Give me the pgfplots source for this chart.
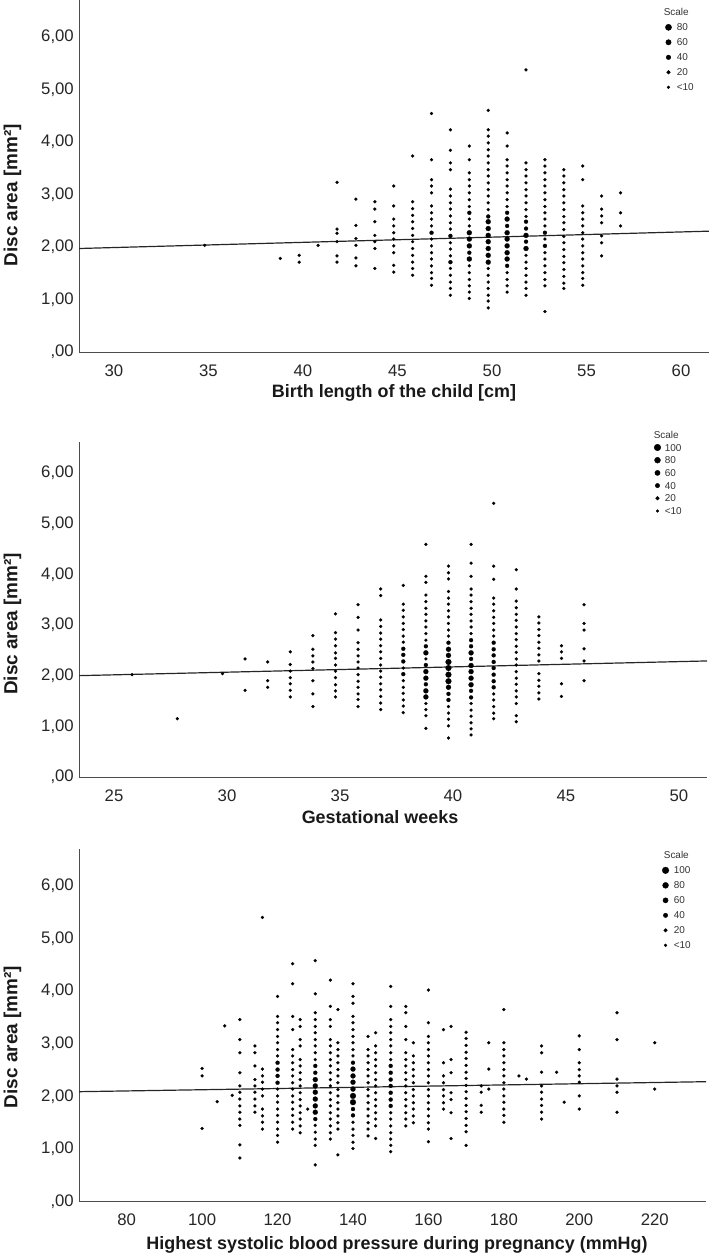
\documentclass[border=0pt]{standalone}
\usepackage{fontspec}
\setmainfont{Liberation Sans}
\usepackage{pgfplots}
\pgfplotsset{compat=1.18}
\pgfplotsset{
  myax/.style={
    scale only axis, axis lines=left,
    axis line style={-, black!70, line width=0.8bp},
    major tick length=0pt, ymin=0, ytick={0,1,2,3,4,5,6},
    yticklabels={{,00},{1,00},{2,00},{3,00},{4,00},{5,00},{6,00}},
    tick label style={font=\fontsize{16.8}{18}\selectfont, text=black!85},
    yticklabel style={xshift=-1.7bp},
    xticklabel style={yshift=-9bp},
    label style={font=\bfseries\fontsize{18}{20}\selectfont, text=black!90},
    ylabel={Disc area [mm²]},
    ylabel style={font=\bfseries\fontsize{19}{21}\selectfont},
    legend cell align=left,
    legend style={draw=none, fill=none, inner sep=0pt,
      font=\fontsize{10}{10}\selectfont, text=black!80,
      nodes={inner sep=0pt, text height=7.3bp, text depth=0pt}},
  },
  dotleg/.style={legend image code/.code={\fill[black] (0,0) circle[radius=#1];}},
  sdot/.style={forget plot, only marks, mark=*, mark size=1.55bp, mark options={fill=black, draw=black, line width=0.2bp}},
  mdot/.style={forget plot, only marks, mark=*, mark size=2.0bp, mark options={fill=black, draw=black, line width=0.2bp}},
  ldot/.style={forget plot, only marks, mark=*, mark size=2.5bp, mark options={fill=black, draw=black, line width=0.2bp}},
  xdot/.style={forget plot, only marks, mark=*, mark size=2.9bp, mark options={fill=black, draw=black, line width=0.2bp}},
  regline/.style={forget plot, black!85, line width=1.2bp},
}
\begin{document}
\begin{tikzpicture}
\useasboundingbox (0,0) rectangle (709bp,-1257bp);
% ---------------- Panel 1 ----------------
\begin{axis}[myax, at={(79bp,-352bp)}, anchor=south west, width=630bp, height=352bp,
  xmin=28.15, xmax=61.48, ymax=6.7,
  xtick={30,35,40,45,50,55,60}, xticklabels={30,35,40,45,50,55,60},
  xlabel={Birth length of the child [cm]},
  xlabel style={at={(axis description cs:0.5,0)}, anchor=center, yshift=-41bp},
  ylabel style={at={(axis description cs:-0.1056,0.445)}, anchor=center},
  legend style={at={(axis description cs:0.976,0.976)}, anchor=north east, row sep=7.7bp, column sep=5bp}]
\addplot[regline] coordinates {(28.15,1.97) (61.48,2.30)};
\addplot[sdot] coordinates {
(34.8,2.03) (38.8,1.78) (39.8,1.84) (39.8,1.71) (40.8,2.03)
(41.8,3.23) (41.8,2.34) (41.8,2.26) (41.8,2.10) (41.8,1.83) (41.8,1.71)
(42.8,2.91) (42.8,2.41) (42.8,2.16) (42.8,2.03) (42.8,1.79) (42.8,1.64)
(43.8,2.86) (43.8,2.72) (43.8,2.48) (43.8,2.22) (43.8,2.10) (43.8,1.97) (43.8,1.59)
(44.8,3.16) (44.8,2.78) (44.8,2.53) (44.8,2.40) (44.8,2.27) (44.8,2.15) (44.8,2.02) (44.8,1.89) (44.8,1.65) (44.8,1.52)
(45.8,3.73) (45.8,2.86) (45.8,2.73) (45.8,2.60) (45.8,2.48) (45.8,2.35) (45.8,2.22) (45.8,2.10) (45.8,1.97) (45.8,1.84) (45.8,1.71) (45.8,1.59) (45.8,1.46)
(46.8,4.54) (46.8,3.66) (46.8,3.28) (46.8,3.16) (46.8,3.03) (46.8,2.78) (46.8,2.65) (46.8,2.53) (46.8,2.40) (46.8,2.15) (46.8,2.02) (46.8,1.89) (46.8,1.77) (46.8,1.64) (46.8,1.51) (46.8,1.40) (46.8,1.27)
(47.8,4.23) (47.8,3.84) (47.8,3.60) (47.8,3.47) (47.8,3.10) (47.8,2.97) (47.8,2.84) (47.8,2.72) (47.8,2.59) (47.8,2.46) (47.8,2.34) (47.8,2.08) (47.8,1.96) (47.8,1.83) (47.8,1.59) (47.8,1.46) (47.8,1.33) (47.8,1.21) (47.8,1.08)
(48.8,3.92) (48.8,3.66) (48.8,3.41) (48.8,3.28) (48.8,3.16) (48.8,3.03) (48.8,2.90) (48.8,2.77) (48.8,2.53) (48.8,2.40) (48.8,1.64) (48.8,1.51) (48.8,1.38) (48.8,1.26) (48.8,1.14) (48.8,1.02)
(49.8,4.60) (49.8,4.23) (49.8,4.11) (49.8,3.98) (49.8,3.85) (49.8,3.73) (49.8,3.60) (49.8,3.47) (49.8,3.35) (49.8,3.22) (49.8,3.09) (49.8,2.97) (49.8,2.84) (49.8,2.71) (49.8,1.59) (49.8,1.46) (49.8,1.33) (49.8,1.21) (49.8,1.08) (49.8,0.97) (49.8,0.84)
(50.8,4.17) (50.8,3.92) (50.8,3.66) (50.8,3.54) (50.8,3.41) (50.8,3.28) (50.8,3.16) (50.8,3.03) (50.8,2.90) (50.8,2.77) (50.8,1.51) (50.8,1.38) (50.8,1.26) (50.8,1.14)
(51.8,5.37) (51.8,3.60) (51.8,3.47) (51.8,3.35) (51.8,3.22) (51.8,3.09) (51.8,2.97) (51.8,2.84) (51.8,2.71) (51.8,2.58) (51.8,1.84) (51.8,1.71) (51.8,1.59) (51.8,1.46) (51.8,1.33) (51.8,1.21) (51.8,1.08)
(52.8,3.66) (52.8,3.54) (52.8,3.41) (52.8,3.28) (52.8,3.16) (52.8,3.03) (52.8,2.90) (52.8,2.77) (52.8,2.65) (52.8,2.53) (52.8,2.40) (52.8,2.15) (52.8,1.89) (52.8,1.77) (52.8,1.64) (52.8,1.51) (52.8,1.38) (52.8,1.26) (52.8,0.77)
(53.8,3.47) (53.8,3.35) (53.8,3.22) (53.8,3.09) (53.8,2.97) (53.8,2.84) (53.8,2.71) (53.8,2.58) (53.8,2.46) (53.8,2.33) (53.8,2.20) (53.8,2.08) (53.8,1.95) (53.8,1.82) (53.8,1.70) (53.8,1.57) (53.8,1.44) (53.8,1.31) (53.8,1.21)
(54.8,3.54) (54.8,3.28) (54.8,2.78) (54.8,2.65) (54.8,2.53) (54.8,2.40) (54.8,2.27) (54.8,2.15) (54.8,2.02) (54.8,1.89) (54.8,1.77) (54.8,1.64) (54.8,1.51) (54.8,1.40) (54.8,1.27)
(55.8,2.97) (55.8,2.72) (55.8,2.59) (55.8,2.46) (55.8,2.21) (55.8,2.08) (55.8,1.83)
(56.8,3.03) (56.8,2.65) (56.8,2.40)
};
\addplot[mdot] coordinates {
(46.8,2.27) (47.8,2.21) (47.8,1.71) (48.8,2.65) (48.8,1.89) (49.8,2.58) (50.8,2.65) (50.8,2.40) (50.8,1.64) (51.8,2.48) (51.8,2.35) (51.8,2.10) (52.8,2.27) (52.8,2.02)
};
\addplot[ldot] coordinates {
(48.8,2.27) (48.8,2.15) (48.8,2.02) (48.8,1.77) (49.8,2.48) (49.8,2.35) (49.8,2.22) (49.8,2.10) (49.8,1.97) (49.8,1.84) (49.8,1.71) (50.8,2.53) (50.8,2.27) (50.8,2.15) (50.8,2.02) (50.8,1.89) (50.8,1.77) (51.8,2.22) (51.8,1.97)
};
\addlegendimage{empty legend}\addlegendentry{\hspace*{-13bp}Scale}
\addlegendimage{dotleg=3.1bp}\addlegendentry{80}
\addlegendimage{dotleg=2.7bp}\addlegendentry{60}
\addlegendimage{dotleg=2.3bp}\addlegendentry{40}
\addlegendimage{dotleg=1.85bp}\addlegendentry{20}
\addlegendimage{dotleg=1.4bp}\addlegendentry{<10}
\end{axis}
% ---------------- Panel 2 ----------------
\begin{axis}[myax, at={(79bp,-777bp)}, anchor=south west, width=628bp, height=335bp,
  xmin=23.45, xmax=51.24, ymax=6.61,
  xtick={25,30,35,40,45,50}, xticklabels={25,30,35,40,45,50},
  xlabel={Gestational weeks},
  xlabel style={at={(axis description cs:0.5,0)}, anchor=center, xshift=-13bp, yshift=-40bp},
  ylabel style={at={(axis description cs:-0.1059,0.457)}, anchor=center},
  legend style={at={(axis description cs:0.960,1.033)}, anchor=north east, row sep=5.4bp, column sep=3.8bp}]
\addplot[regline] coordinates {(23.45,2.00) (51.24,2.29)};
\addplot[sdot] coordinates {
(25.8,2.02) (27.8,1.15) (29.8,2.04) (30.8,2.33) (30.8,1.71) (31.8,2.27) (31.8,1.90) (31.8,1.77)
(32.8,2.47) (32.8,2.22) (32.8,2.09) (32.8,1.96) (32.8,1.84) (32.8,1.71) (32.8,1.58)
(33.8,2.79) (33.8,2.52) (33.8,2.39) (33.8,2.27) (33.8,2.14) (33.8,1.90) (33.8,1.64) (33.8,1.39)
(34.8,3.22) (34.8,2.85) (34.8,2.72) (34.8,2.59) (34.8,2.45) (34.8,2.34) (34.8,2.21) (34.8,2.09) (34.8,1.96) (34.8,1.82) (34.8,1.70) (34.8,1.58)
(35.8,3.40) (35.8,3.15) (35.8,2.90) (35.8,2.65) (35.8,2.52) (35.8,2.39) (35.8,2.27) (35.8,2.15) (35.8,2.02) (35.8,1.89) (35.8,1.77) (35.8,1.64) (35.8,1.53) (35.8,1.39)
(36.8,3.71) (36.8,3.58) (36.8,3.10) (36.8,2.97) (36.8,2.84) (36.8,2.72) (36.8,2.59) (36.8,2.47) (36.8,2.34) (36.8,2.21) (36.8,2.09) (36.8,1.97) (36.8,1.84) (36.8,1.72) (36.8,1.59) (36.8,1.46) (36.8,1.33)
(37.8,3.78) (37.8,3.41) (37.8,3.29) (37.8,3.16) (37.8,3.03) (37.8,2.91) (37.8,2.78) (37.8,2.66) (37.8,2.15) (37.8,1.90) (37.8,1.77) (37.8,1.65) (37.8,1.52) (37.8,1.40) (37.8,1.27)
(38.8,4.59) (38.8,3.96) (38.8,3.84) (38.8,3.59) (38.8,3.46) (38.8,3.33) (38.8,3.21) (38.8,3.08) (38.8,2.96) (38.8,2.83) (38.8,2.70) (38.8,2.33) (38.8,1.45) (38.8,1.33) (38.8,1.21) (38.8,0.96)
(39.8,4.16) (39.8,4.03) (39.8,3.91) (39.8,3.66) (39.8,3.53) (39.8,3.41) (39.8,3.28) (39.8,3.16) (39.8,3.03) (39.8,2.90) (39.8,2.78) (39.8,1.39) (39.8,1.26) (39.8,1.14) (39.8,1.01) (39.8,0.77)
(40.8,4.59) (40.8,4.22) (40.8,3.96) (40.8,3.71) (40.8,3.59) (40.8,3.46) (40.8,3.33) (40.8,3.21) (40.8,3.08) (40.8,2.96) (40.8,2.83) (40.8,1.45) (40.8,1.32) (40.8,1.20) (40.8,1.07) (40.8,0.95) (40.8,0.83)
(41.8,5.40) (41.8,4.16) (41.8,3.90) (41.8,3.53) (41.8,3.41) (41.8,3.28) (41.8,3.15) (41.8,3.03) (41.8,2.90) (41.8,2.78) (41.8,1.64) (41.8,1.52) (41.8,1.39) (41.8,1.26) (41.8,1.15)
(42.8,4.09) (42.8,3.71) (42.8,3.47) (42.8,3.34) (42.8,3.21) (42.8,3.09) (42.8,2.96) (42.8,2.83) (42.8,2.71) (42.8,2.58) (42.8,2.46) (42.8,2.33) (42.8,2.21) (42.8,2.08) (42.8,1.95) (42.8,1.83) (42.8,1.70) (42.8,1.58) (42.8,1.45) (42.8,1.21) (42.8,1.09)
(43.8,3.16) (43.8,3.04) (43.8,2.91) (43.8,2.79) (43.8,2.66) (43.8,2.54) (43.8,2.41) (43.8,2.29) (43.8,2.04) (43.8,1.91) (43.8,1.79) (43.8,1.66) (43.8,1.54)
(44.8,2.59) (44.8,2.47) (44.8,2.34) (44.8,1.84) (44.8,1.59)
(45.8,3.40) (45.8,3.03) (45.8,2.90) (45.8,2.53) (45.8,2.29) (45.8,1.90)
};
\addplot[mdot] coordinates {
(37.8,2.53) (37.8,2.41) (37.8,2.28) (37.8,2.03) (38.8,2.58) (38.8,2.21) (38.8,1.83) (39.8,2.65) (39.8,1.64) (39.8,1.52) (40.8,2.70) (40.8,2.58) (40.8,2.33) (40.8,1.70) (40.8,1.57) (41.8,2.65) (41.8,2.52) (41.8,2.40) (41.8,2.27) (41.8,2.15) (41.8,2.02) (41.8,1.89) (41.8,1.77)
};
\addplot[ldot] coordinates {
(38.8,2.45) (38.8,2.08) (38.8,1.95) (38.8,1.70) (38.8,1.58) (39.8,2.52) (39.8,2.40) (39.8,1.77) (40.8,2.45) (40.8,2.20) (40.8,2.08) (40.8,1.95) (40.8,1.82)
};
\addplot[xdot] coordinates {
(39.8,2.27) (39.8,2.15) (39.8,2.02) (39.8,1.89)
};
\addlegendimage{empty legend}\addlegendentry{\hspace*{-11bp}Scale}
\addlegendimage{dotleg=3.3bp}\addlegendentry{100}
\addlegendimage{dotleg=2.95bp}\addlegendentry{80}
\addlegendimage{dotleg=2.6bp}\addlegendentry{60}
\addlegendimage{dotleg=2.2bp}\addlegendentry{40}
\addlegendimage{dotleg=1.8bp}\addlegendentry{20}
\addlegendimage{dotleg=1.4bp}\addlegendentry{<10}
\end{axis}
% ---------------- Panel 3 ----------------
\begin{axis}[myax, at={(79bp,-1201.7bp)}, anchor=south west, width=627bp, height=352.7bp,
  xmin=67.35, xmax=233.6, ymax=6.7,
  xtick={80,100,120,140,160,180,200,220}, xticklabels={80,100,120,140,160,180,200,220},
  xlabel={Highest systolic blood pressure during pregnancy (mmHg)},
  xlabel style={at={(axis description cs:0.5,0)}, anchor=center, xshift=4.5bp, yshift=-43bp},
  ylabel style={at={(axis description cs:-0.106,0.467)}, anchor=center},
  legend style={at={(axis description cs:0.976,0.993)}, anchor=north east, row sep=7.7bp, column sep=4.8bp}]
\addplot[regline] coordinates {(67.35,2.09) (233.6,2.28)};
\addplot[sdot] coordinates {
(100,2.53) (100,2.39) (100,1.39) (104,1.90) (106,3.34) (108,2.02)
(110,3.46) (110,3.08) (110,2.83) (110,2.45) (110,2.20) (110,2.08) (110,1.95) (110,1.82) (110,1.70) (110,1.57) (110,1.45) (110,1.08) (110,0.83)
(114,2.96) (114,2.83) (114,2.58) (114,2.32) (114,2.20) (114,2.08) (114,1.95) (114,1.82) (114,1.70)
(116,5.40) (116,2.52) (116,2.39) (116,2.27) (116,2.14) (116,2.01) (116,1.76) (116,1.63) (116,1.51) (116,1.38)
(120,3.90) (120,3.52) (120,3.40) (120,3.27) (120,3.14) (120,3.02) (120,2.89) (120,2.77) (120,2.14) (120,2.01) (120,1.89) (120,1.76) (120,1.64) (120,1.51) (120,1.38) (120,1.26) (120,1.13)
(124,4.52) (124,4.14) (124,3.52) (124,3.27) (124,2.89) (124,2.77) (124,2.64) (124,2.51) (124,2.39) (124,2.26) (124,2.14) (124,2.01) (124,1.89) (124,1.76) (124,1.64) (124,1.51) (124,1.38)
(126,3.46) (126,3.33) (126,3.08) (126,2.96) (126,2.70) (126,2.58) (126,2.45) (126,2.32) (126,2.20) (126,2.07) (126,1.94) (126,1.82) (126,1.69) (126,1.57) (126,1.44) (126,1.31)
(128,1.76)
(130,4.58) (130,3.95) (130,3.59) (130,3.46) (130,3.33) (130,3.21) (130,3.08) (130,2.96) (130,2.83) (130,2.70) (130,1.45) (130,1.32) (130,1.19) (130,1.07) (130,0.70)
(134,4.21) (134,3.71) (134,3.46) (134,3.33) (134,3.08) (134,2.96) (134,2.83) (134,2.70) (134,2.58) (134,2.45) (134,2.32) (134,2.20) (134,2.07) (134,1.94) (134,1.82) (134,1.69) (134,1.57) (134,1.44) (134,1.31) (134,1.19)
(136,3.65) (136,3.02) (136,2.89) (136,2.77) (136,2.64) (136,2.51) (136,2.39) (136,2.26) (136,2.13) (136,2.01) (136,1.88) (136,1.76) (136,1.63) (136,1.50) (136,1.38) (136,0.89)
(140,4.14) (140,3.90) (140,3.77) (140,3.52) (140,3.40) (140,3.27) (140,3.14) (140,3.02) (140,2.89) (140,2.77) (140,1.51) (140,1.38) (140,1.26) (140,1.13) (140,1.01)
(144,3.14) (144,2.89) (144,2.77) (144,2.64) (144,2.51) (144,2.39) (144,2.26) (144,2.13) (144,2.01) (144,1.88) (144,1.76) (144,1.63) (144,1.50) (144,1.38) (144,1.25)
(146,3.21) (146,2.96) (146,2.83) (146,2.70) (146,2.58) (146,2.45) (146,2.32) (146,2.20) (146,2.07) (146,1.94) (146,1.82) (146,1.69) (146,1.57) (146,1.44) (146,1.20)
(150,4.09) (150,3.71) (150,3.46) (150,3.33) (150,3.21) (150,3.08) (150,2.96) (150,2.83) (150,2.70) (150,1.69) (150,1.57) (150,1.44) (150,1.31) (150,1.19) (150,1.07) (150,0.95)
(154,3.71) (154,3.59) (154,3.33) (154,3.08) (154,2.83) (154,2.70) (154,2.58) (154,2.45) (154,2.32) (154,2.20) (154,2.07) (154,1.94) (154,1.82) (154,1.69) (154,1.57) (154,1.44)
(156,3.02) (156,2.77) (156,2.64) (156,2.51) (156,2.39) (156,2.26) (156,2.13) (156,2.01) (156,1.88) (156,1.76) (156,1.63) (156,1.50)
(160,4.02) (160,3.40) (160,3.14) (160,3.02) (160,2.89) (160,2.77) (160,2.64) (160,2.51) (160,2.39) (160,2.26) (160,2.13) (160,2.01) (160,1.88) (160,1.76) (160,1.63) (160,1.50) (160,1.38) (160,1.14)
(164,3.27) (164,2.64) (164,2.39) (164,2.26) (164,2.13) (164,2.01) (164,1.88) (164,1.76)
(166,3.33) (166,2.70) (166,2.45) (166,2.07) (166,1.94) (166,1.69) (166,1.20)
(170,3.22) (170,3.10) (170,2.97) (170,2.84) (170,2.72) (170,2.59) (170,2.46) (170,2.34) (170,2.21) (170,2.09) (170,1.96) (170,1.83) (170,1.71) (170,1.58) (170,1.45) (170,1.33) (170,1.07)
(174,2.20) (174,2.08) (174,1.83) (174,1.70)
(176,3.02) (176,2.52) (176,2.14)
(180,3.65) (180,3.02) (180,2.89) (180,2.77) (180,2.64) (180,2.51) (180,2.39) (180,2.26) (180,2.14) (180,2.01) (180,1.89) (180,1.76) (180,1.64) (180,1.51)
(184,2.39) (186,2.33)
(190,2.96) (190,2.83) (190,2.46) (190,2.20) (190,2.08) (190,1.95) (190,1.83) (190,1.70) (190,1.57)
(194,2.46) (196,1.89)
(200,3.15) (200,2.89) (200,2.64) (200,2.51) (200,2.39) (200,2.27) (200,2.01) (200,1.76)
(210,3.59) (210,3.08) (210,2.33) (210,2.20) (210,2.08) (210,1.70)
(220,3.02) (220,2.14)
};
\addplot[mdot] coordinates {
(120,2.64) (120,2.51) (120,2.39) (120,2.26) (130,2.58) (130,2.45) (130,1.57) (140,2.64) (140,1.76) (140,1.64) (150,2.58) (150,2.45) (150,2.32) (150,2.20) (150,2.07) (150,1.94) (150,1.82)
};
\addplot[ldot] coordinates {
(130,2.32) (130,2.20) (130,2.08) (130,1.95) (130,1.82) (130,1.70) (140,2.52) (140,2.39) (140,2.27) (140,2.14)
};
\addplot[xdot] coordinates {
(140,2.01) (140,1.89)
};
\addlegendimage{empty legend}\addlegendentry{\hspace*{-10bp}Scale}
\addlegendimage{dotleg=3.3bp}\addlegendentry{100}
\addlegendimage{dotleg=2.95bp}\addlegendentry{80}
\addlegendimage{dotleg=2.6bp}\addlegendentry{60}
\addlegendimage{dotleg=2.2bp}\addlegendentry{40}
\addlegendimage{dotleg=1.8bp}\addlegendentry{20}
\addlegendimage{dotleg=1.4bp}\addlegendentry{<10}
\end{axis}
\end{tikzpicture}
\end{document}
